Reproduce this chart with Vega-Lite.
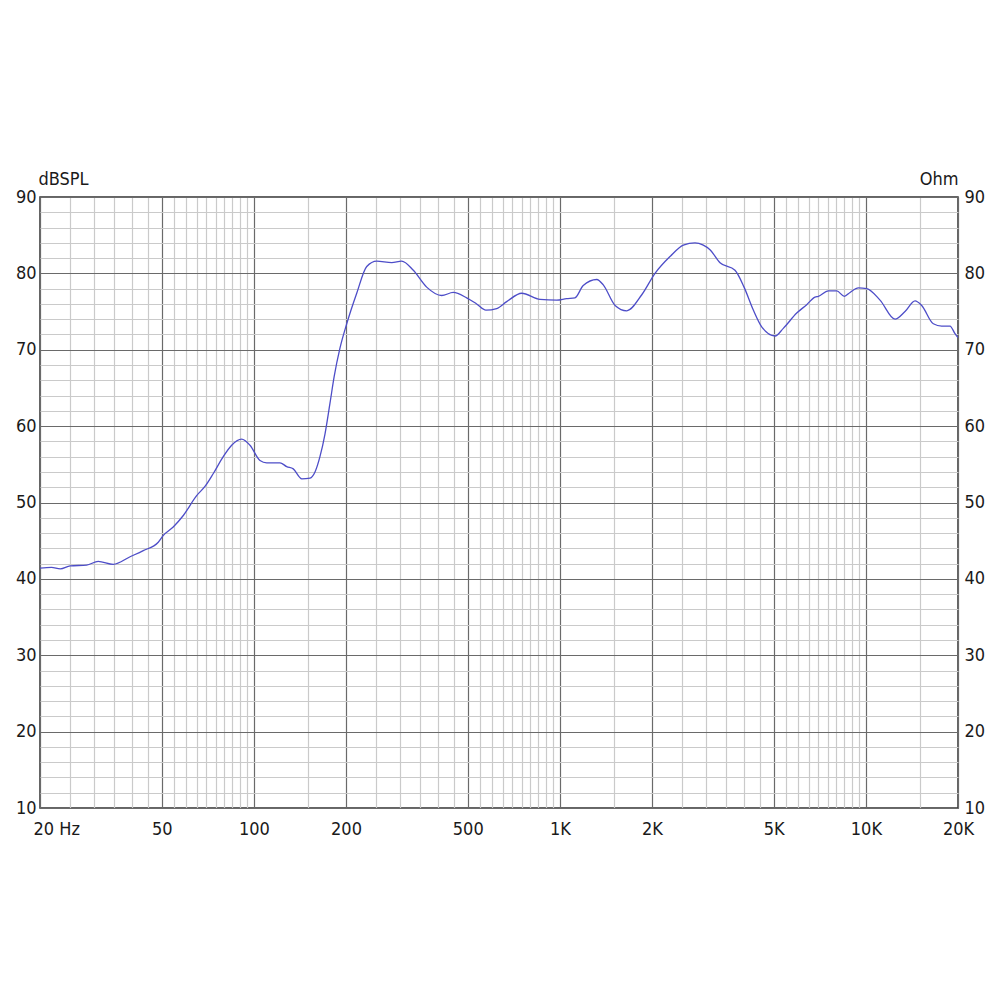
{
  "$schema": "https://vega.github.io/schema/vega-lite/v6.json",
  "width": 918,
  "height": 611,
  "autosize": {"type": "none"},
  "padding": {"left": 40, "top": 197, "right": 42, "bottom": 192},
  "background": "white",
  "data": {
    "values": [
      {"f": 20, "db": 41.4},
      {"f": 21.8, "db": 41.5},
      {"f": 23.3, "db": 41.3},
      {"f": 25.1, "db": 41.7},
      {"f": 28.4, "db": 41.8},
      {"f": 31.0, "db": 42.3},
      {"f": 34.7, "db": 41.9},
      {"f": 39.4, "db": 42.9},
      {"f": 43.5, "db": 43.7},
      {"f": 48.7, "db": 44.8},
      {"f": 50.6, "db": 45.7},
      {"f": 54.5, "db": 46.8},
      {"f": 58.8, "db": 48.3},
      {"f": 65.0, "db": 50.9},
      {"f": 69.2, "db": 52.1},
      {"f": 73.7, "db": 53.8},
      {"f": 79.4, "db": 56.0},
      {"f": 84.6, "db": 57.5},
      {"f": 91.2, "db": 58.3},
      {"f": 97.1, "db": 57.5},
      {"f": 104.7, "db": 55.5},
      {"f": 110.1, "db": 55.2},
      {"f": 121.7, "db": 55.2},
      {"f": 128.0, "db": 54.7},
      {"f": 134.5, "db": 54.4},
      {"f": 143.4, "db": 53.1},
      {"f": 152.6, "db": 53.2},
      {"f": 158.4, "db": 54.0},
      {"f": 164.4, "db": 56.0},
      {"f": 170.8, "db": 59.0},
      {"f": 177.3, "db": 63.0},
      {"f": 183, "db": 66.5},
      {"f": 191.1, "db": 70.2},
      {"f": 201.1, "db": 73.4},
      {"f": 216.8, "db": 77.4},
      {"f": 233.8, "db": 80.9},
      {"f": 252.0, "db": 81.6},
      {"f": 282.1, "db": 81.4},
      {"f": 304.1, "db": 81.6},
      {"f": 331.9, "db": 80.4},
      {"f": 367.0, "db": 78.2},
      {"f": 410.9, "db": 77.1},
      {"f": 448.3, "db": 77.5},
      {"f": 495.9, "db": 76.8},
      {"f": 534.6, "db": 76.0},
      {"f": 573.3, "db": 75.2},
      {"f": 621.6, "db": 75.4},
      {"f": 670.2, "db": 76.3},
      {"f": 750.2, "db": 77.4},
      {"f": 861.0, "db": 76.6},
      {"f": 976.2, "db": 76.5},
      {"f": 1052, "db": 76.7},
      {"f": 1120, "db": 76.8},
      {"f": 1192, "db": 78.4},
      {"f": 1320, "db": 79.2},
      {"f": 1386, "db": 78.5},
      {"f": 1515, "db": 75.8},
      {"f": 1654, "db": 75.1},
      {"f": 1852, "db": 77.2},
      {"f": 2046, "db": 80.0},
      {"f": 2290, "db": 82.2},
      {"f": 2532, "db": 83.7},
      {"f": 2764, "db": 84.0},
      {"f": 2942, "db": 83.7},
      {"f": 3094, "db": 83.1},
      {"f": 3337, "db": 81.4},
      {"f": 3735, "db": 80.4},
      {"f": 3998, "db": 78.2},
      {"f": 4287, "db": 75.2},
      {"f": 4566, "db": 73.0},
      {"f": 5049, "db": 71.8},
      {"f": 5372, "db": 72.8},
      {"f": 5943, "db": 74.8},
      {"f": 6407, "db": 75.9},
      {"f": 6820, "db": 76.9},
      {"f": 6992, "db": 77.0},
      {"f": 7538, "db": 77.7},
      {"f": 8030, "db": 77.7},
      {"f": 8503, "db": 77.0},
      {"f": 8876, "db": 77.5},
      {"f": 9448, "db": 78.1},
      {"f": 10065, "db": 78.0},
      {"f": 11122, "db": 76.5},
      {"f": 12451, "db": 74.0},
      {"f": 13424, "db": 75.0},
      {"f": 14475, "db": 76.4},
      {"f": 15221, "db": 75.8},
      {"f": 16610, "db": 73.4},
      {"f": 17690, "db": 73.1},
      {"f": 18834, "db": 73.1},
      {"f": 19556, "db": 72.1},
      {"f": 20000, "db": 71.6}
    ]
  },
  "layer": [
    {
      "mark": {"type": "line", "color": "#4d4dc8", "strokeWidth": 1.3, "interpolate": "monotone", "clip": true},
      "encoding": {
        "x": {
          "field": "f",
          "type": "quantitative",
          "scale": {"type": "log", "domain": [20, 20000], "nice": false},
          "axis": {
            "title": null,
            "values": [25, 30, 35, 40, 45, 55, 60, 65, 70, 75, 80, 85, 90, 95, 150, 250, 300, 350, 400, 450, 550, 600, 650, 700, 750, 800, 850, 900, 950, 1500, 2500, 3000, 3500, 4000, 4500, 5500, 6000, 6500, 7000, 7500, 8000, 8500, 9000, 9500, 15000, 20, 50, 100, 200, 500, 1000, 2000, 5000, 10000, 20000],
            "grid": true,
            "gridColor": {"condition": {"test": "indexof([20,50,100,200,500,1000,2000,5000,10000,20000], datum.value) >= 0", "value": "#6a6a6a"}, "value": "#cacaca"},
            "gridWidth": 1.2,
            "gridOpacity": 1,
            "ticks": false,
            "domain": false,
            "labelExpr": "indexof([20,50,100,200,500,1000,2000,5000,10000,20000], datum.value) < 0 ? '' : datum.value == 20 ? '20 Hz' : datum.value >= 1000 ? (datum.value / 1000) + 'K' : '' + datum.value",
            "labelOverlap": false,
            "labelBound": false,
            "labelFlush": false,
            "labelAlign": {"condition": {"test": "datum.value == 20", "value": "left"}, "value": "center"},
            "labelOffset": {"condition": {"test": "datum.value == 20", "value": -7}, "value": 0},
            "labelPadding": 12
          }
        },
        "y": {
          "field": "db",
          "type": "quantitative",
          "scale": {"domain": [10, 90], "nice": false, "zero": false},
          "axis": {
            "title": "dBSPL",
            "titleAngle": 0,
            "titleAlign": "left",
            "titleBaseline": "alphabetic",
            "titleX": -2,
            "titleY": -13,
            "titleFontWeight": "normal",
            "values": [12, 14, 16, 18, 22, 24, 26, 28, 32, 34, 36, 38, 42, 44, 46, 48, 52, 54, 56, 58, 62, 64, 66, 68, 72, 74, 76, 78, 82, 84, 86, 88, 10, 20, 30, 40, 50, 60, 70, 80, 90],
            "grid": true,
            "gridColor": {"condition": {"test": "datum.value % 10 == 0", "value": "#6a6a6a"}, "value": "#cacaca"},
            "gridWidth": 1.2,
            "gridOpacity": 1,
            "ticks": false,
            "domain": false,
            "labelExpr": "datum.value % 10 == 0 ? '' + datum.value : ''",
            "labelOverlap": false,
            "labelBound": false,
            "labelFlush": false,
            "labelPadding": 4
          }
        }
      }
    },
    {
      "mark": {"type": "line", "strokeOpacity": 0},
      "encoding": {
        "x": {"field": "f", "type": "quantitative"},
        "y": {
          "field": "db",
          "type": "quantitative",
          "axis": {
            "orient": "right",
            "title": "Ohm",
            "titleAngle": 0,
            "titleAlign": "right",
            "titleBaseline": "alphabetic",
            "titleX": 0,
            "titleY": -13,
            "titleFontWeight": "normal",
            "values": [10, 20, 30, 40, 50, 60, 70, 80, 90],
            "grid": false,
            "ticks": false,
            "domain": false,
            "labelOverlap": false,
            "labelBound": false,
            "labelFlush": false,
            "labelPadding": 6
          }
        }
      }
    }
  ],
  "resolve": {"axis": {"y": "independent"}},
  "config": {
    "view": {"stroke": "#333333", "strokeWidth": 1.5},
    "axis": {
      "labelFont": "DejaVu Sans Condensed, Liberation Sans Narrow, Liberation Sans, sans-serif",
      "titleFont": "DejaVu Sans Condensed, Liberation Sans Narrow, Liberation Sans, sans-serif",
      "labelFontSize": 18,
      "titleFontSize": 18,
      "labelColor": "#1a1a1a",
      "titleColor": "#1a1a1a"
    }
  }
}
